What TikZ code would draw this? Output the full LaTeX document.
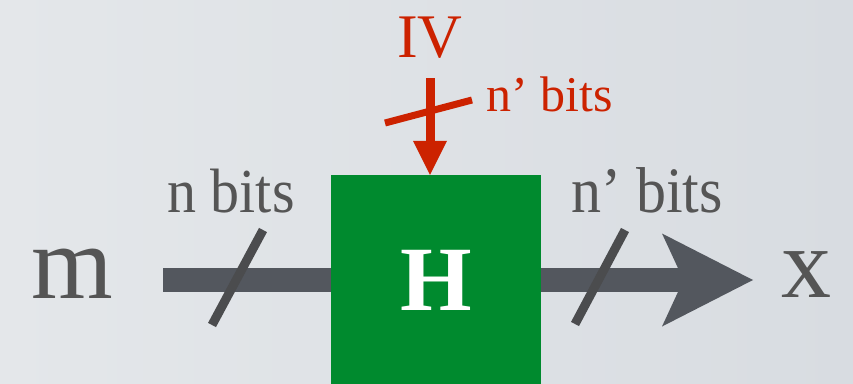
\documentclass[tikz,border=0pt]{standalone}
\usepackage{fontspec}
\setmainfont{Liberation Serif}
\usetikzlibrary{arrows.meta}
\definecolor{bgL}{HTML}{E4E7EA}
\definecolor{bgR}{HTML}{D8DCE1}
\definecolor{hgreen}{HTML}{008A2E}
\definecolor{shaftgray}{HTML}{53575E}
\definecolor{slashgray}{HTML}{4B4C4E}
\definecolor{txtgray}{HTML}{555555}
\definecolor{ivred}{HTML}{CC2200}
\begin{document}
\begin{tikzpicture}[x=1pt,y=-1pt,
  lbl/.style={inner sep=0pt, anchor=base},
  graytxt/.style={lbl, text=txtgray},
  redtxt/.style={lbl, text=ivred},
  hbox/.style={fill=hgreen, draw=none, minimum width=210pt, minimum height=210pt, inner sep=0pt,
    text=white, font=\fontsize{92}{92}\selectfont\bfseries},
  shaft/.style={draw=shaftgray, line width=24pt},
  slash/.style={draw=slashgray, line width=9pt},
  ivline/.style={draw=ivred, fill=ivred, line width=9pt},
  ivslash/.style={draw=ivred, line width=7pt}]
\useasboundingbox (0,0) rectangle (853,383);
\shade[left color=bgL, right color=bgR] (0,0) rectangle (853,383);

% nodes
\node[hbox] (H) at (436,280) {H};
\node[graytxt, font=\fontsize{105}{105}\selectfont] (m) at (72,298) {m};
\node[graytxt, font=\fontsize{100}{100}\selectfont] (x) at (806,297) {x};
\node[graytxt, font=\fontsize{58}{58}\selectfont] (nb) at (231,212) {\scalebox{1}[1.08]{n bits}};
\node[graytxt, font=\fontsize{60}{60}\selectfont] (npb) at (647,212) {\scalebox{1}[1.08]{n’ bits}};
\node[redtxt, font=\fontsize{62}{62}\selectfont] (iv) at (430,57) {IV};
\node[redtxt, anchor=base west, font=\fontsize{50}{50}\selectfont] (rnb) at (486,111) {n’ bits};

% connectors
\coordinate (mstart) at (163,280);
\coordinate (xend) at (753,280);
\coordinate (ivstart) at (430,78);
\draw[shaft] (mstart) -- (H.west);
\draw[shaft, -{Stealth[length=91pt,width=93pt,inset=21.5pt,line width=0pt]}, fill=shaftgray] (H.east) -- (xend);
\draw[ivline, -{Triangle[length=34pt,width=34pt,line width=0pt]}] (ivstart) -- (ivstart |- H.north);

% bus slashes
\draw[slash] (263,230) -- (212,325);
\draw[slash] (625,230) -- (575,324);
\draw[ivslash] (385,123) -- (472,100);
\end{tikzpicture}
\end{document}
